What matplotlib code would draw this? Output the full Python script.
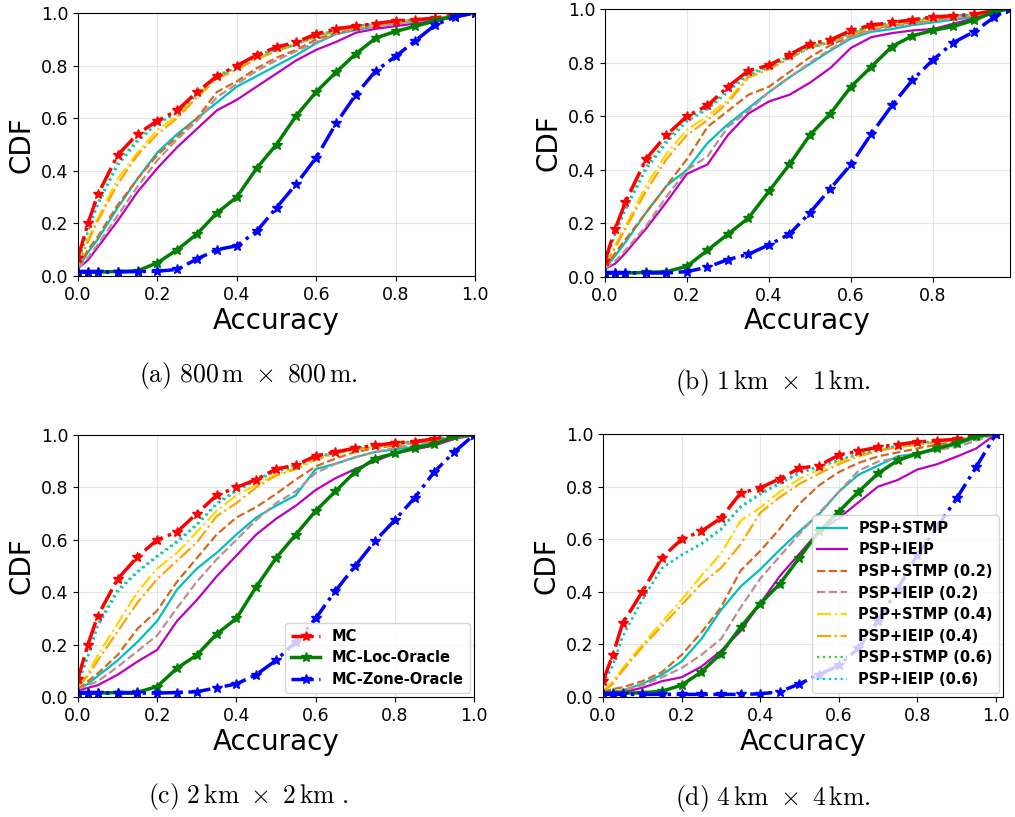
import numpy as np
import matplotlib.pyplot as plt

plt.rcParams["mathtext.fontset"] = "cm"

# ---- accuracy grids (x values) ----
acc_a = [0, 0.025, 0.05, 0.1, 0.15, 0.2, 0.25, 0.3, 0.35, 0.4, 0.45,
         0.5, 0.55, 0.6, 0.65, 0.7, 0.75, 0.8, 0.85, 0.9, 0.95, 1.0]
acc_b = [0, 0.025, 0.05, 0.1, 0.15, 0.2, 0.25, 0.3, 0.35, 0.4, 0.45,
         0.5, 0.55, 0.6, 0.65, 0.7, 0.75, 0.8, 0.85, 0.9, 0.95, 0.985]
acc_c = acc_a
acc_d = acc_a

# ---- (a) 800 m x 800 m ----
mc_a = [0.07, 0.2, 0.31, 0.46, 0.54, 0.59, 0.63, 0.70, 0.76, 0.80, 0.84,
        0.87, 0.89, 0.92, 0.94, 0.95, 0.96, 0.97, 0.975, 0.98, 0.995, 1.0]
loc_a = [0.015, 0.015, 0.015, 0.017, 0.02, 0.05, 0.10, 0.16, 0.24, 0.30, 0.41,
         0.50, 0.61, 0.70, 0.775, 0.845, 0.905, 0.93, 0.95, 0.97, 0.99, 1.0]
zone_a = [0.015, 0.015, 0.015, 0.015, 0.017, 0.018, 0.025, 0.065, 0.10, 0.115, 0.17,
          0.26, 0.35, 0.45, 0.58, 0.69, 0.78, 0.835, 0.895, 0.955, 0.985, 1.0]
stmp_a = [0.03, 0.09, 0.14, 0.26, 0.37, 0.47, 0.54, 0.60, 0.66, 0.72, 0.76,
          0.80, 0.84, 0.885, 0.92, 0.935, 0.95, 0.96, 0.97, 0.975, 0.99, 1.0]
ieip_a = [0.03, 0.06, 0.11, 0.21, 0.32, 0.41, 0.49, 0.56, 0.63, 0.67, 0.72,
          0.77, 0.82, 0.86, 0.89, 0.925, 0.94, 0.95, 0.96, 0.97, 0.985, 1.0]
stmp02_a = [0.03, 0.10, 0.15, 0.27, 0.37, 0.46, 0.53, 0.60, 0.70, 0.74, 0.79,
            0.83, 0.86, 0.90, 0.925, 0.94, 0.955, 0.965, 0.975, 0.98, 0.99, 1.0]
ieip02_a = [0.03, 0.07, 0.12, 0.23, 0.34, 0.44, 0.52, 0.59, 0.68, 0.73, 0.78,
            0.82, 0.855, 0.89, 0.92, 0.94, 0.95, 0.96, 0.97, 0.98, 0.99, 1.0]
stmp04_a = [0.04, 0.14, 0.22, 0.37, 0.47, 0.555, 0.61, 0.69, 0.76, 0.79, 0.83,
            0.86, 0.885, 0.915, 0.935, 0.945, 0.955, 0.965, 0.975, 0.98, 0.99, 1.0]
ieip04_a = [0.04, 0.13, 0.21, 0.35, 0.46, 0.54, 0.60, 0.68, 0.75, 0.785, 0.825,
            0.855, 0.88, 0.91, 0.93, 0.945, 0.955, 0.965, 0.975, 0.98, 0.99, 1.0]
stmp06_a = [0.05, 0.17, 0.28, 0.43, 0.52, 0.58, 0.62, 0.70, 0.76, 0.80, 0.84,
            0.865, 0.885, 0.915, 0.935, 0.95, 0.96, 0.97, 0.975, 0.98, 0.99, 1.0]
ieip06_a = [0.05, 0.17, 0.27, 0.42, 0.51, 0.58, 0.62, 0.69, 0.755, 0.795, 0.835,
            0.86, 0.88, 0.91, 0.935, 0.95, 0.96, 0.97, 0.975, 0.98, 0.99, 1.0]

# ---- (b) 1 km x 1 km ----
mc_b = [0.06, 0.18, 0.28, 0.44, 0.53, 0.60, 0.64, 0.71, 0.77, 0.79, 0.83,
        0.87, 0.885, 0.92, 0.94, 0.95, 0.96, 0.97, 0.975, 0.98, 0.995, 1.0]
loc_b = [0.015, 0.015, 0.015, 0.017, 0.02, 0.04, 0.10, 0.16, 0.22, 0.32, 0.42,
         0.53, 0.61, 0.71, 0.785, 0.86, 0.90, 0.92, 0.935, 0.958, 0.99, 1.0]
zone_b = [0.015, 0.015, 0.015, 0.015, 0.015, 0.02, 0.037, 0.065, 0.085, 0.12, 0.16,
          0.24, 0.33, 0.42, 0.535, 0.64, 0.735, 0.81, 0.875, 0.915, 0.97, 1.0]
stmp_b = [0.03, 0.08, 0.13, 0.24, 0.34, 0.40, 0.50, 0.57, 0.63, 0.69, 0.745,
          0.795, 0.845, 0.89, 0.915, 0.925, 0.94, 0.95, 0.96, 0.97, 0.99, 1.0]
ieip_b = [0.03, 0.05, 0.09, 0.18, 0.28, 0.385, 0.42, 0.53, 0.61, 0.655, 0.68,
          0.725, 0.78, 0.855, 0.895, 0.91, 0.92, 0.925, 0.945, 0.965, 0.985, 1.0]
stmp02_b = [0.03, 0.09, 0.14, 0.24, 0.34, 0.44, 0.56, 0.62, 0.68, 0.71, 0.765,
            0.82, 0.865, 0.90, 0.925, 0.94, 0.95, 0.96, 0.97, 0.975, 0.99, 1.0]
ieip02_b = [0.03, 0.06, 0.10, 0.19, 0.30, 0.40, 0.45, 0.56, 0.62, 0.69, 0.745,
            0.80, 0.85, 0.895, 0.92, 0.935, 0.945, 0.955, 0.965, 0.975, 0.99, 1.0]
stmp04_b = [0.04, 0.12, 0.19, 0.34, 0.46, 0.55, 0.60, 0.66, 0.75, 0.78, 0.82,
            0.86, 0.88, 0.91, 0.93, 0.945, 0.955, 0.965, 0.975, 0.98, 0.99, 1.0]
ieip04_b = [0.04, 0.11, 0.18, 0.32, 0.44, 0.53, 0.585, 0.65, 0.745, 0.775, 0.815,
            0.855, 0.875, 0.905, 0.93, 0.945, 0.955, 0.965, 0.975, 0.98, 0.99, 1.0]
stmp06_b = [0.05, 0.16, 0.26, 0.41, 0.51, 0.59, 0.63, 0.70, 0.76, 0.785, 0.825,
            0.86, 0.88, 0.915, 0.935, 0.95, 0.96, 0.97, 0.975, 0.98, 0.99, 1.0]
ieip06_b = [0.05, 0.16, 0.25, 0.40, 0.50, 0.58, 0.625, 0.69, 0.755, 0.78, 0.82,
            0.855, 0.875, 0.91, 0.935, 0.95, 0.96, 0.97, 0.975, 0.98, 0.99, 1.0]

# ---- (c) 2 km x 2 km ----
mc_c = [0.07, 0.2, 0.31, 0.45, 0.535, 0.60, 0.63, 0.70, 0.77, 0.80, 0.83,
        0.87, 0.885, 0.92, 0.935, 0.95, 0.96, 0.97, 0.975, 0.985, 1.0, 1.0]
loc_c = [0.015, 0.015, 0.015, 0.017, 0.018, 0.04, 0.11, 0.16, 0.24, 0.30, 0.42,
         0.53, 0.62, 0.71, 0.785, 0.86, 0.91, 0.93, 0.95, 0.965, 0.995, 1.0]
zone_c = [0.015, 0.015, 0.015, 0.015, 0.015, 0.015, 0.017, 0.02, 0.035, 0.05, 0.085,
          0.14, 0.21, 0.30, 0.405, 0.50, 0.595, 0.675, 0.76, 0.86, 0.935, 1.0]
stmp_c = [0.03, 0.05, 0.08, 0.14, 0.21, 0.29, 0.41, 0.49, 0.55, 0.62, 0.685,
          0.73, 0.77, 0.87, 0.89, 0.915, 0.935, 0.945, 0.955, 0.975, 0.99, 1.0]
ieip_c = [0.025, 0.035, 0.045, 0.085, 0.135, 0.18, 0.29, 0.37, 0.46, 0.54, 0.62,
          0.68, 0.73, 0.79, 0.835, 0.87, 0.90, 0.93, 0.945, 0.96, 0.985, 1.0]
stmp02_c = [0.03, 0.06, 0.09, 0.16, 0.26, 0.33, 0.44, 0.53, 0.62, 0.685, 0.725,
            0.775, 0.83, 0.88, 0.91, 0.935, 0.95, 0.96, 0.97, 0.98, 0.99, 1.0]
ieip02_c = [0.03, 0.045, 0.06, 0.115, 0.175, 0.235, 0.34, 0.44, 0.525, 0.60, 0.675,
            0.74, 0.785, 0.855, 0.89, 0.915, 0.935, 0.95, 0.965, 0.975, 0.99, 1.0]
stmp04_c = [0.04, 0.09, 0.16, 0.28, 0.40, 0.49, 0.55, 0.63, 0.71, 0.77, 0.81,
            0.85, 0.875, 0.91, 0.93, 0.945, 0.955, 0.965, 0.975, 0.98, 0.99, 1.0]
ieip04_c = [0.04, 0.08, 0.14, 0.25, 0.36, 0.45, 0.52, 0.59, 0.69, 0.74, 0.80,
            0.845, 0.87, 0.905, 0.93, 0.945, 0.955, 0.965, 0.975, 0.98, 0.99, 1.0]
stmp06_c = [0.05, 0.16, 0.28, 0.41, 0.48, 0.54, 0.595, 0.66, 0.74, 0.79, 0.83,
            0.865, 0.885, 0.915, 0.935, 0.95, 0.96, 0.97, 0.975, 0.985, 0.995, 1.0]
ieip06_c = [0.05, 0.15, 0.27, 0.40, 0.475, 0.535, 0.59, 0.655, 0.735, 0.785, 0.825,
            0.86, 0.88, 0.915, 0.935, 0.95, 0.96, 0.97, 0.975, 0.985, 0.995, 1.0]

# ---- (d) 4 km x 4 km ----
mc_d = [0.06, 0.16, 0.28, 0.40, 0.53, 0.60, 0.63, 0.68, 0.775, 0.795, 0.83,
        0.87, 0.88, 0.92, 0.935, 0.95, 0.96, 0.97, 0.975, 0.98, 0.997, 1.0]
loc_d = [0.015, 0.015, 0.015, 0.016, 0.022, 0.045, 0.095, 0.165, 0.265, 0.355, 0.43,
         0.53, 0.63, 0.705, 0.78, 0.85, 0.90, 0.925, 0.945, 0.965, 0.992, 1.0]
zone_d = [0.01, 0.01, 0.01, 0.01, 0.01, 0.01, 0.01, 0.01, 0.01, 0.012, 0.02,
          0.05, 0.085, 0.12, 0.185, 0.29, 0.41, 0.54, 0.645, 0.755, 0.875, 1.0]
stmp_d = [0.015, 0.018, 0.025, 0.05, 0.085, 0.135, 0.22, 0.33, 0.42, 0.485, 0.56,
          0.63, 0.695, 0.78, 0.845, 0.88, 0.915, 0.926, 0.94, 0.96, 0.985, 1.0]
ieip_d = [0.015, 0.015, 0.018, 0.035, 0.06, 0.075, 0.115, 0.175, 0.25, 0.355, 0.46,
          0.545, 0.63, 0.68, 0.74, 0.80, 0.825, 0.865, 0.885, 0.914, 0.945, 1.0]
stmp02_d = [0.02, 0.03, 0.037, 0.06, 0.095, 0.16, 0.245, 0.34, 0.48, 0.555, 0.64,
            0.735, 0.805, 0.855, 0.89, 0.915, 0.93, 0.945, 0.96, 0.97, 0.985, 1.0]
ieip02_d = [0.015, 0.02, 0.025, 0.045, 0.075, 0.11, 0.16, 0.22, 0.34, 0.45, 0.535,
            0.62, 0.70, 0.78, 0.86, 0.895, 0.91, 0.925, 0.94, 0.95, 0.975, 1.0]
stmp04_d = [0.02, 0.06, 0.11, 0.20, 0.285, 0.37, 0.46, 0.545, 0.67, 0.72, 0.78,
            0.83, 0.865, 0.895, 0.92, 0.94, 0.95, 0.96, 0.97, 0.98, 0.99, 1.0]
ieip04_d = [0.02, 0.05, 0.10, 0.19, 0.27, 0.35, 0.43, 0.49, 0.58, 0.70, 0.76,
            0.81, 0.85, 0.885, 0.915, 0.935, 0.95, 0.96, 0.97, 0.98, 0.99, 1.0]
stmp06_d = [0.05, 0.12, 0.23, 0.37, 0.49, 0.54, 0.585, 0.64, 0.725, 0.775, 0.815,
            0.855, 0.878, 0.90, 0.925, 0.94, 0.955, 0.965, 0.975, 0.98, 0.99, 1.0]
ieip06_d = [0.05, 0.12, 0.23, 0.37, 0.49, 0.54, 0.58, 0.635, 0.72, 0.77, 0.81,
            0.85, 0.875, 0.90, 0.925, 0.94, 0.955, 0.965, 0.975, 0.98, 0.99, 1.0]

psp_labels = ["PSP+STMP", "PSP+IEIP", "PSP+STMP (0.2)", "PSP+IEIP (0.2)",
              "PSP+STMP (0.4)", "PSP+IEIP (0.4)", "PSP+STMP (0.6)", "PSP+IEIP (0.6)"]
mc_labels = ["MC", "MC-Loc-Oracle", "MC-Zone-Oracle"]
captions = [r"$\mathrm{(a)}\ 800\,\mathrm{m}\ \times\ 800\,\mathrm{m.}$",
            r"$\mathrm{(b)}\ 1\,\mathrm{km}\ \times\ 1\,\mathrm{km.}$",
            r"$\mathrm{(c)}\ 2\,\mathrm{km}\ \times\ 2\,\mathrm{km}\ .$",
            r"$\mathrm{(d)}\ 4\,\mathrm{km}\ \times\ 4\,\mathrm{km.}$"]

# styles
psp_styles = [("c", "-"), ("m", "-"), ("chocolate", "--"), ("rosybrown", "--"),
              ("gold", "-."), ("orange", "-."), ("limegreen", ":"), ("deepskyblue", ":")]
mc_styles = [("red", "-."), ("green", "-"), ("blue", "-.")]

panels = [
    (acc_a, [mc_a, loc_a, zone_a],
     [stmp_a, ieip_a, stmp02_a, ieip02_a, stmp04_a, ieip04_a, stmp06_a, ieip06_a], 1.0),
    (acc_b, [mc_b, loc_b, zone_b],
     [stmp_b, ieip_b, stmp02_b, ieip02_b, stmp04_b, ieip04_b, stmp06_b, ieip06_b], 0.988),
    (acc_c, [mc_c, loc_c, zone_c],
     [stmp_c, ieip_c, stmp02_c, ieip02_c, stmp04_c, ieip04_c, stmp06_c, ieip06_c], 1.0),
    (acc_d, [mc_d, loc_d, zone_d],
     [stmp_d, ieip_d, stmp02_d, ieip02_d, stmp04_d, ieip04_d, stmp06_d, ieip06_d], 1.018),
]

# pixel boxes (left, top, right, bottom) and caption centres
W, H = 1015, 817
boxes = [(78, 13, 475, 276), (605, 9, 1010, 277), (78, 435, 474, 697), (603, 434, 1003, 697)]
cap_pos = [(248, 375), (773, 382), (248, 797), (773, 798)]

fig = plt.figure(figsize=(W / 100, H / 100), dpi=100)

for i, (acc, mc_vals, psp_vals, xmax) in enumerate(panels):
    l, t, r, b = boxes[i]
    ax = fig.add_axes([l / W, 1 - b / H, (r - l) / W, (b - t) / H])

    psp_lines = []
    for vals, (col, ls), lab in zip(psp_vals, psp_styles, psp_labels):
        ln, = ax.plot(acc, vals, color=col, linestyle=ls, lw=1.6, label=lab)
        psp_lines.append(ln)
    mc_lines = []
    for vals, (col, ls), lab in zip(mc_vals, mc_styles, mc_labels):
        ln, = ax.plot(acc, vals, color=col, linestyle=ls, lw=2.5, marker="*",
                      markersize=7, label=lab)
        mc_lines.append(ln)

    ax.set_xlim(0, xmax)
    ax.set_ylim(0, 1.0)
    ax.set_xticks(np.arange(0, xmax + 1e-9, 0.2))
    ax.set_yticks(np.arange(0, 1.01, 0.2))
    ax.tick_params(labelsize=12.5)
    ax.grid(True, alpha=0.3)
    ax.set_xlabel("Accuracy", fontsize=20, labelpad=2)
    ax.set_ylabel("CDF", fontsize=20)

    if i == 2:
        ax.legend(handles=mc_lines, loc="lower right", prop={"weight": "bold", "size": 10.5},
                  labelspacing=0.45, borderaxespad=0.3)
    if i == 3:
        ax.legend(handles=psp_lines, loc="lower right", prop={"weight": "bold", "size": 10.5},
                  labelspacing=0.45, borderaxespad=0.3)

    cx, cy = cap_pos[i]
    fig.text(cx / W, 1 - cy / H, captions[i], ha="center", va="center", fontsize=18.5)

fig.savefig("out.png", dpi=100)
